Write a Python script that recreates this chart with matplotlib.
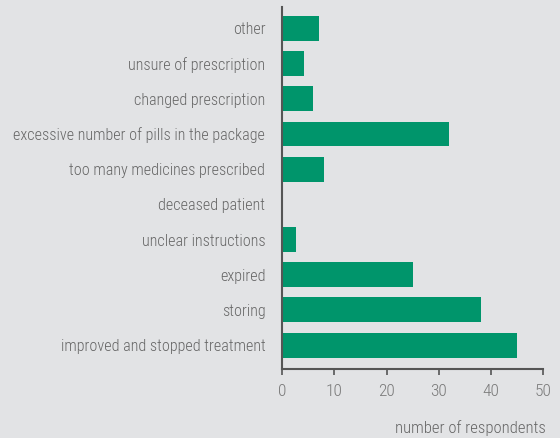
import matplotlib
matplotlib.use("Agg")
import matplotlib.pyplot as plt

categories = [
    "improved and stopped treatment",
    "storing",
    "expired",
    "unclear instructions",
    "deceased patient",
    "too many medicines prescribed",
    "excessive number of pills in the package",
    "changed prescription",
    "unsure of prescription",
    "other",
]
values = [45, 38, 25, 2.6, 0, 8, 32, 6, 4.2, 7]
xticks = [0, 10, 20, 30, 40, 50]

BG = "#e2e3e5"
BAR = "#00956b"
TXT = "#666666"
AX = "#555555"
FONT = ["Roboto Condensed", "Roboto"]

plt.rcParams["font.family"] = FONT

fig = plt.figure(figsize=(5.6, 4.38), dpi=100, facecolor=BG)
ax = fig.add_axes([282 / 560, 1 - 369 / 438, (543.3 - 282) / 560, (369 - 7) / 438])
ax.set_facecolor(BG)

ypos = list(range(len(categories)))
ax.barh(ypos, values, height=0.71, color=BAR, edgecolor="none")

ax.set_xlim(0, 50)
ax.set_ylim(-0.68, len(categories) - 1 + 0.61)
ax.set_yticks(ypos)
ax.set_yticklabels(categories, fontsize=11.6, color=TXT, fontweight="light")
ax.set_xticks(xticks)
ax.set_xticklabels([str(t) for t in xticks], fontsize=12.5, color="#7a7a7a",
                   fontweight="light")

ax.tick_params(axis="y", length=0, pad=12)
ax.tick_params(axis="x", length=4.5, width=1.2, color=AX, pad=6, direction="out")

for s in ["top", "right"]:
    ax.spines[s].set_visible(False)
for s in ["left", "bottom"]:
    ax.spines[s].set_color(AX)
    ax.spines[s].set_linewidth(1.5)

fig.text(546 / 560, 1 - 428 / 438, "number of respondents", ha="right", va="center",
         fontsize=12, color=TXT, fontweight="light")

fig.savefig("out.png", dpi=100, facecolor=BG)
